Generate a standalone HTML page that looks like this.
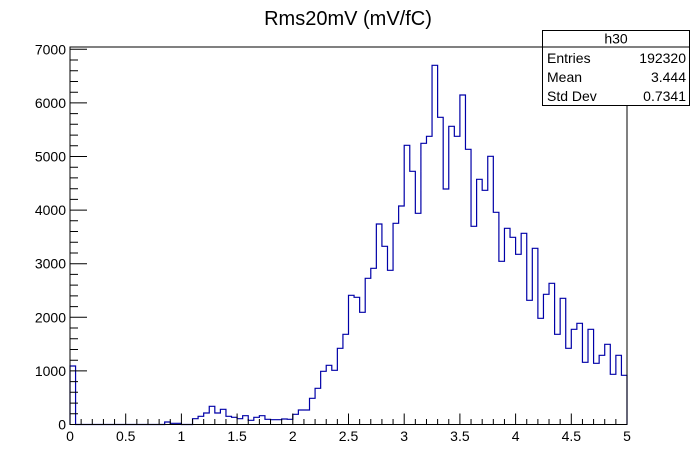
<!DOCTYPE html>
<html><head><meta charset="utf-8"><style>
html,body{margin:0;padding:0;background:#fff;}
svg{display:block;font-family:"Liberation Sans",Arial,sans-serif;}
</style></head><body>
<svg width="696" height="472" viewBox="0 0 696 472" xmlns="http://www.w3.org/2000/svg">
<rect width="696" height="472" fill="#fff"/>
<text x="348" y="25" font-size="20" text-anchor="middle">Rms20mV (mV/fC)</text>
<path fill="none" stroke="#0000a8" stroke-width="1.2" d="M70,424.5 V366 H75.57 V424.5 H164.69 V422 H170.26 V423.3 H181.4 V424.5 H192.54 V418.7 H198.11 V416.3 H203.68 V413 H209.25 V406.3 H214.82 V413 H220.39 V409.3 H225.96 V416.3 H231.53 V417.3 H237.1 V418.7 H242.67 V415.7 H248.24 V420.3 H253.81 V417.3 H259.38 V415.7 H264.95 V419.3 H270.52 V419.7 H281.66 V419 H287.23 V419.3 H292.8 V414.3 H298.37 V410 H309.51 V398.3 H315.08 V388.3 H320.65 V371.3 H326.22 V365.3 H331.79 V370.3 H337.36 V348.3 H342.93 V334.3 H348.5 V295.3 H354.07 V297.3 H359.64 V312.3 H365.21 V278.3 H370.78 V268.3 H376.35 V224 H381.92 V246.3 H387.49 V270.3 H393.06 V223.3 H398.63 V206 H404.2 V145.3 H409.77 V171.3 H415.34 V213.3 H420.91 V143.3 H426.48 V136.3 H432.05 V65.3 H437.62 V117.3 H443.19 V189 H448.76 V126.3 H454.33 V136.3 H459.9 V95 H465.47 V149.3 H471.04 V226.3 H476.61 V179.3 H482.18 V190.3 H487.75 V156.3 H493.32 V212.3 H498.89 V261.3 H504.46 V228.3 H510.03 V237.3 H515.6 V254.3 H521.17 V233.3 H526.74 V300.3 H532.31 V248.3 H537.88 V318.3 H543.45 V294.3 H549.02 V283.3 H554.59 V334.3 H560.16 V298.3 H565.73 V348.3 H571.3 V329.3 H576.87 V323.3 H582.44 V362.3 H588.01 V329.3 H593.58 V363.3 H599.15 V355.3 H604.72 V344.3 H610.29 V374.3 H615.86 V355.3 H621.43 V375.3 H627 V424.5"/>
<rect x="70" y="47" width="557" height="377.5" fill="none" stroke="#000" stroke-width="1"/>
<g stroke="#000" stroke-width="1">
<!-- x ticks -->
<path d="M70,424.5v-11 M125.7,424.5v-11 M181.4,424.5v-11 M237.1,424.5v-11 M292.8,424.5v-11 M348.5,424.5v-11 M404.2,424.5v-11 M459.9,424.5v-11 M515.6,424.5v-11 M571.3,424.5v-11 M627,424.5v-11
M81.14,424.5v-5.5 M92.28,424.5v-5.5 M103.42,424.5v-5.5 M114.56,424.5v-5.5
M136.84,424.5v-5.5 M147.98,424.5v-5.5 M159.12,424.5v-5.5 M170.26,424.5v-5.5
M192.54,424.5v-5.5 M203.68,424.5v-5.5 M214.82,424.5v-5.5 M225.96,424.5v-5.5
M248.24,424.5v-5.5 M259.38,424.5v-5.5 M270.52,424.5v-5.5 M281.66,424.5v-5.5
M303.94,424.5v-5.5 M315.08,424.5v-5.5 M326.22,424.5v-5.5 M337.36,424.5v-5.5
M359.64,424.5v-5.5 M370.78,424.5v-5.5 M381.92,424.5v-5.5 M393.06,424.5v-5.5
M415.34,424.5v-5.5 M426.48,424.5v-5.5 M437.62,424.5v-5.5 M448.76,424.5v-5.5
M471.04,424.5v-5.5 M482.18,424.5v-5.5 M493.32,424.5v-5.5 M504.46,424.5v-5.5
M526.74,424.5v-5.5 M537.88,424.5v-5.5 M549.02,424.5v-5.5 M560.16,424.5v-5.5
M582.44,424.5v-5.5 M593.58,424.5v-5.5 M604.72,424.5v-5.5 M615.86,424.5v-5.5"/>
<!-- y ticks -->
<path d="M70,424.5h17 M70,370.9h17 M70,317.3h17 M70,263.7h17 M70,210.1h17 M70,156.5h17 M70,102.9h17 M70,49.3h17
M70,413.8h8 M70,403.1h8 M70,392.3h8 M70,381.6h8
M70,360.2h8 M70,349.5h8 M70,338.7h8 M70,328h8
M70,306.6h8 M70,295.9h8 M70,285.1h8 M70,274.4h8
M70,253h8 M70,242.3h8 M70,231.5h8 M70,220.8h8
M70,199.4h8 M70,188.7h8 M70,177.9h8 M70,167.2h8
M70,145.8h8 M70,135.1h8 M70,124.3h8 M70,113.6h8
M70,92.2h8 M70,81.5h8 M70,70.7h8 M70,60h8"/>
</g>
<g font-size="14" text-anchor="middle">
<text x="70" y="441">0</text><text x="125.7" y="441">0.5</text><text x="181.4" y="441">1</text><text x="237.1" y="441">1.5</text><text x="292.8" y="441">2</text><text x="348.5" y="441">2.5</text><text x="404.2" y="441">3</text><text x="459.9" y="441">3.5</text><text x="515.6" y="441">4</text><text x="571.3" y="441">4.5</text><text x="627" y="441">5</text>
</g>
<g font-size="14" text-anchor="end">
<text x="66" y="429.5">0</text><text x="66" y="375.9">1000</text><text x="66" y="322.3">2000</text><text x="66" y="268.7">3000</text><text x="66" y="215.1">4000</text><text x="66" y="161.5">5000</text><text x="66" y="107.9">6000</text><text x="66" y="54.3">7000</text>
</g>
<rect x="542.5" y="30.5" width="147" height="75" fill="#fff" stroke="#000" stroke-width="1"/>
<line x1="542.5" y1="47" x2="689.5" y2="47" stroke="#000"/>
<g font-size="14">
<text x="616" y="43.5" text-anchor="middle">h30</text>
<text x="547" y="63">Entries</text><text x="686" y="63" text-anchor="end">192320</text>
<text x="547" y="82">Mean</text><text x="686" y="82" text-anchor="end">3.444</text>
<text x="547" y="101">Std Dev</text><text x="686" y="101" text-anchor="end">0.7341</text>
</g>
</svg>
</body></html>
